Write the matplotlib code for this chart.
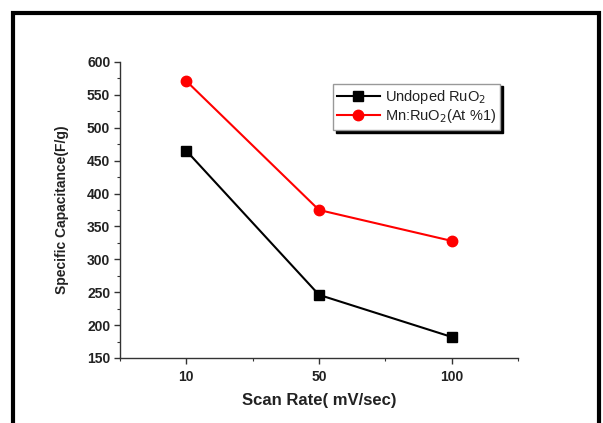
import matplotlib.pyplot as plt
from matplotlib.patches import Rectangle
from matplotlib.ticker import MultipleLocator

plt.rcParams['font.family'] = ['Liberation Sans', 'DejaVu Sans']

scan_rate = ['10', '50', '100']
undoped = [465, 246, 182]
mn_doped = [571, 375, 328]

fig = plt.figure(figsize=(6.03, 4.23), dpi=100)
ax = fig.add_axes([0.199, 0.1537, 0.66, 0.6998])

x = range(1, len(scan_rate) + 1)
ax.plot(x, undoped, color='black', marker='s', markersize=7, lw=1.5,
        label='Undoped RuO$_2$')
ax.plot(x, mn_doped, color='red', marker='o', markersize=7.5, lw=1.5,
        label='Mn:RuO$_2$(At %1)')

ax.set_xlim(0.5, 3.5)
ax.set_ylim(150, 600)
ax.set_xticks(list(x))
ax.set_xticklabels(scan_rate)
ax.xaxis.set_minor_locator(MultipleLocator(0.5))
ax.yaxis.set_major_locator(MultipleLocator(50))
ax.yaxis.set_minor_locator(MultipleLocator(25))

for s in ['top', 'right']:
    ax.spines[s].set_visible(False)
for s in ['left', 'bottom']:
    ax.spines[s].set_linewidth(1.0)
    ax.spines[s].set_color('#333333')

ax.tick_params(which='major', direction='out', length=4, width=1, colors='#333333',
               labelsize=10, labelcolor='#222222', pad=3)
ax.tick_params(which='minor', direction='out', length=2.5, width=0.8, colors='#333333')
for lab in ax.get_xticklabels() + ax.get_yticklabels():
    lab.set_fontweight('bold')
ax.tick_params(axis='x', pad=5)

ax.set_xlabel('Scan Rate( mV/sec)', fontsize=12, fontweight='bold', color='#222222', labelpad=6)
ax.set_ylabel('Specific Capacitance(F/g)', fontsize=10, fontweight='bold', color='#222222', labelpad=13)

leg = ax.legend(loc='upper left', bbox_to_anchor=(0.535, 0.927), fontsize=10.5,
                numpoints=1, handlelength=2.9, fancybox=False, frameon=True,
                shadow={'color': 'black', 'alpha': 1.0}, borderpad=0.3,
                labelspacing=0.1, handletextpad=0.35, borderaxespad=0)
leg.get_frame().set_edgecolor('#999999')
leg.get_frame().set_linewidth(1.0)
for t in leg.get_texts():
    t.set_color('#222222')

# outer frame
fig.patches.append(Rectangle((0.022, -0.05), 0.971, 1.019, transform=fig.transFigure,
                             fill=False, edgecolor='black', lw=3))

fig.savefig('out.png', dpi=100)
